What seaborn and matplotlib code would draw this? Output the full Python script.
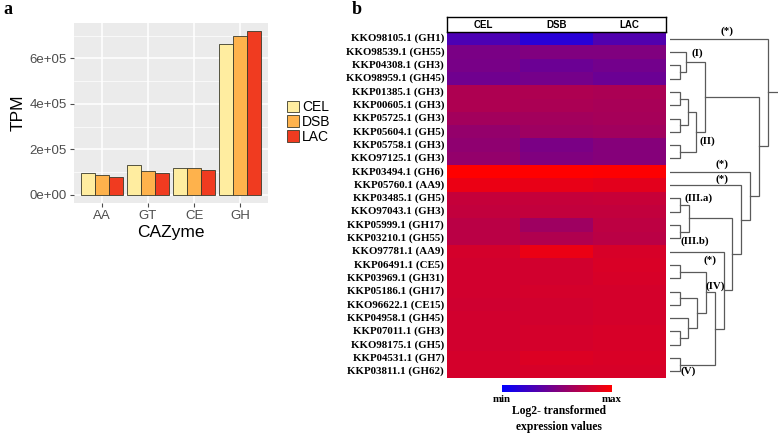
import numpy as np
import pandas as pd
import matplotlib
matplotlib.use("Agg")
import matplotlib.pyplot as plt
import seaborn as sns
from matplotlib.colors import LinearSegmentedColormap

# ---- panel a data ----
cazymes = ["AA", "GT", "CE", "GH"]
samples = ["CEL", "DSB", "LAC"]
cel_tpm = [94000, 130000, 120000, 664000]
dsb_tpm = [87000, 106000, 116000, 699000]
lac_tpm = [80000, 97000, 110000, 719000]
bar_colors = ["#FFEDA0", "#FEB24C", "#F03B20"]

# ---- panel b data ----
genes = ["KKO98105.1 (GH1)", "KKO98539.1 (GH55)", "KKP04308.1 (GH3)", "KKO98959.1 (GH45)",
         "KKP01385.1 (GH3)", "KKP00605.1 (GH3)", "KKP05725.1 (GH3)", "KKP05604.1 (GH5)",
         "KKP05758.1 (GH3)", "KKO97125.1 (GH3)", "KKP03494.1 (GH6)", "KKP05760.1 (AA9)",
         "KKP03485.1 (GH5)", "KKO97043.1 (GH3)", "KKP05999.1 (GH17)", "KKP03210.1 (GH55)",
         "KKO97781.1 (AA9)", "KKP06491.1 (CE5)", "KKP03969.1 (GH31)", "KKP05186.1 (GH17)",
         "KKO96622.1 (CE15)", "KKP04958.1 (GH45)", "KKP07011.1 (GH3)", "KKO98175.1 (GH5)",
         "KKP04531.1 (GH7)", "KKP03811.1 (GH62)"]
expr_cel = [0.30, 0.48, 0.47, 0.44, 0.68, 0.68, 0.64, 0.58, 0.56, 0.58, 1.00, 0.92, 0.77,
            0.76, 0.73, 0.73, 0.83, 0.82, 0.82, 0.82, 0.81, 0.82, 0.82, 0.82, 0.83, 0.83]
expr_dsb = [0.16, 0.50, 0.42, 0.46, 0.68, 0.67, 0.64, 0.62, 0.48, 0.50, 1.00, 0.91, 0.77,
            0.76, 0.62, 0.69, 0.92, 0.82, 0.82, 0.83, 0.82, 0.82, 0.83, 0.83, 0.86, 0.84]
expr_lac = [0.32, 0.50, 0.45, 0.42, 0.67, 0.66, 0.65, 0.63, 0.52, 0.52, 0.99, 0.89, 0.78,
            0.76, 0.74, 0.73, 0.84, 0.85, 0.84, 0.83, 0.83, 0.83, 0.84, 0.84, 0.85, 0.84]

# dendrogram merges: (name, left, right, height); ints are row indices
merges = [
    ("c34", 2, 3, 10), ("cI", 1, "c34", 16),
    ("c56", 4, 5, 10), ("c78", 6, 7, 10), ("c5678", "c56", "c78", 18),
    ("c910", 8, 9, 10), ("cII", "c5678", "c910", 26), ("cI_II", "cI", "cII", 35),
    ("c1314", 12, 13, 10), ("c1516", 14, 15, 10), ("cIII", "c1314", "c1516", 19),
    ("c1819", 17, 18, 10), ("c2021", 19, 20, 10), ("c2324", 22, 23, 10),
    ("c22_24", 21, "c2324", 18), ("c20_24", "c2021", "c22_24", 27),
    ("cIV", "c1819", "c20_24", 36), ("cV", 24, 25, 10), ("cIV_V", "cIV", "cV", 45),
    ("c17", 16, "cIV_V", 54), ("cIII_17", "cIII", "c17", 62),
    ("c12", 11, "cIII_17", 71), ("c11", 10, "c12", 80),
    ("cX", "cI_II", "c11", 89), ("root", 0, "cX", 98),
]
clade_labels = [("(*)", 57, -0.05), ("(I)", 27.5, 1.58), ("(II)", 37, 8.23),
                ("(*)", 51.7, 9.9), ("(*)", 51.7, 11.04), ("(III.a)", 28.5, 12.47),
                ("(III.b)", 25, 15.7), ("(*)", 39.5, 17.17), ("(IV)", 45, 19.12),
                ("(V)", 18.5, 25.47)]

W, H = 778, 433
fig = plt.figure(figsize=(W / 100, H / 100), dpi=100)


def box(x0, y0, x1, y1):
    return [x0 / W, 1 - y1 / H, (x1 - x0) / W, (y1 - y0) / H]


sans = "Liberation Sans"
serif = "Liberation Serif"

# ---------------- panel a ----------------
df = pd.DataFrame({
    "CAZyme": cazymes * 3,
    "Sample": [s for s in samples for _ in cazymes],
    "TPM": cel_tpm + dsb_tpm + lac_tpm,
})
ax = fig.add_axes(box(74, 23, 268, 203))
ax.set_facecolor("#EBEBEB")
for v in [1e5, 3e5, 5e5, 7e5]:
    ax.axhline(v, color="white", lw=0.5, zorder=0)
for v in [0, 2e5, 4e5, 6e5]:
    ax.axhline(v, color="white", lw=1.1, zorder=0)
for v in range(4):
    ax.axvline(v, color="white", lw=1.1, zorder=0)
sns.barplot(data=df, x="CAZyme", y="TPM", hue="Sample", palette=bar_colors,
            saturation=1, width=0.9, edgecolor="#3a3a2a", linewidth=0.6, ax=ax, zorder=2)
ax.set_xlim(-0.6, 3.6)
ax.set_ylim(-36000, 755000)
ax.set_yticks([0, 2e5, 4e5, 6e5])
ax.set_yticklabels(["0e+00", "2e+05", "4e+05", "6e+05"])
for s in ax.spines.values():
    s.set_visible(False)
ax.tick_params(colors="#4D4D4D", labelsize=9.5, length=3, width=0.8, pad=2)
for lab in ax.get_xticklabels() + ax.get_yticklabels():
    lab.set_fontfamily(sans)
ax.set_xlabel("CAZyme", fontsize=12.5, fontfamily=sans, labelpad=2)
ax.set_ylabel("TPM", fontsize=12.5, fontfamily=sans, labelpad=3)
handles, labels = ax.get_legend_handles_labels()
ax.legend_.remove()
fig.legend(handles, labels, loc="center left", bbox_to_anchor=(280 / W, 1 - 122 / H),
           frameon=False, prop={"family": sans, "size": 10},
           handlelength=0.9, handleheight=0.9, labelspacing=0.05, handletextpad=0.2,
           borderpad=0)

fig.text(3 / W, 1 - 9 / H, "a", fontsize=13, fontweight="bold", fontfamily=serif, va="center")
fig.text(352 / W, 1 - 9 / H, "b", fontsize=13, fontweight="bold", fontfamily=serif, va="center")

# ---------------- panel b heatmap ----------------
mat = pd.DataFrame({"CEL": expr_cel, "DSB": expr_dsb, "LAC": expr_lac}, index=genes)
cmap = LinearSegmentedColormap.from_list("bluered", ["#0000FF", "#FF0000"])
hax = fig.add_axes(box(447, 32, 666, 378))
cax = fig.add_axes(box(502, 385, 612, 392))
sns.heatmap(mat, cmap=cmap, vmin=0, vmax=1, ax=hax, cbar_ax=cax,
            cbar_kws={"orientation": "horizontal"}, xticklabels=False, yticklabels=True)
hax.tick_params(axis="y", length=0, pad=2)
for lab in hax.get_yticklabels():
    lab.set_rotation(0)
    lab.set_fontfamily(serif)
    lab.set_fontweight("bold")
    lab.set_fontsize(7.8)
hax.set_ylabel("")
hax.set_xlabel("")
cax.set_xticks([])
cax.set_yticks([])
cax.tick_params(length=0)
for s in cax.spines.values():
    s.set_visible(False)
cax.text(0, -0.5, "min", transform=cax.transAxes, ha="center", va="top",
         fontfamily=serif, fontweight="bold", fontsize=7.8)
cax.text(1, -0.5, "max", transform=cax.transAxes, ha="center", va="top",
         fontfamily=serif, fontweight="bold", fontsize=7.8)
fig.text(559 / W, 1 - 419 / H, "Log2- transformed\nexpression values", ha="center",
         va="center", fontfamily=serif, fontweight="bold", fontsize=8.4, linespacing=1.35)

# header box
head = fig.add_axes(box(447, 17, 666, 32))
head.set_xlim(0, 3)
head.set_ylim(0, 1)
head.set_xticks([])
head.set_yticks([])
for s in head.spines.values():
    s.set_linewidth(1.0)
for i, s in enumerate(samples):
    head.text(i + 0.5, 0.5, s, ha="center", va="center", fontfamily=sans,
              fontweight="bold", fontsize=7)

# ---------------- dendrogram ----------------
dax = fig.add_axes(box(670, 32, 778, 378))
dax.set_xlim(0, 108)
dax.set_ylim(len(genes), 0)
dax.axis("off")
pos = {}
hgt = {}
for name, a, b, h in merges:
    ya = a + 0.5 if isinstance(a, int) else pos[a]
    yb = b + 0.5 if isinstance(b, int) else pos[b]
    ha_ = 0 if isinstance(a, int) else hgt[a]
    hb_ = 0 if isinstance(b, int) else hgt[b]
    dax.plot([ha_, h, h, hb_], [ya, ya, yb, yb], color="#5a5a5a", lw=0.9,
             solid_joinstyle="miter")
    pos[name] = (ya + yb) / 2
    hgt[name] = h
dax.plot([hgt["root"], 108], [pos["root"], pos["root"]], color="#5a5a5a", lw=0.9, clip_on=False)
for txt, x, y in clade_labels:
    dax.text(x, y, txt, ha="center", va="center", fontfamily=serif, fontweight="bold",
             fontsize=7.8, clip_on=False)

fig.savefig("out.png", dpi=100)
